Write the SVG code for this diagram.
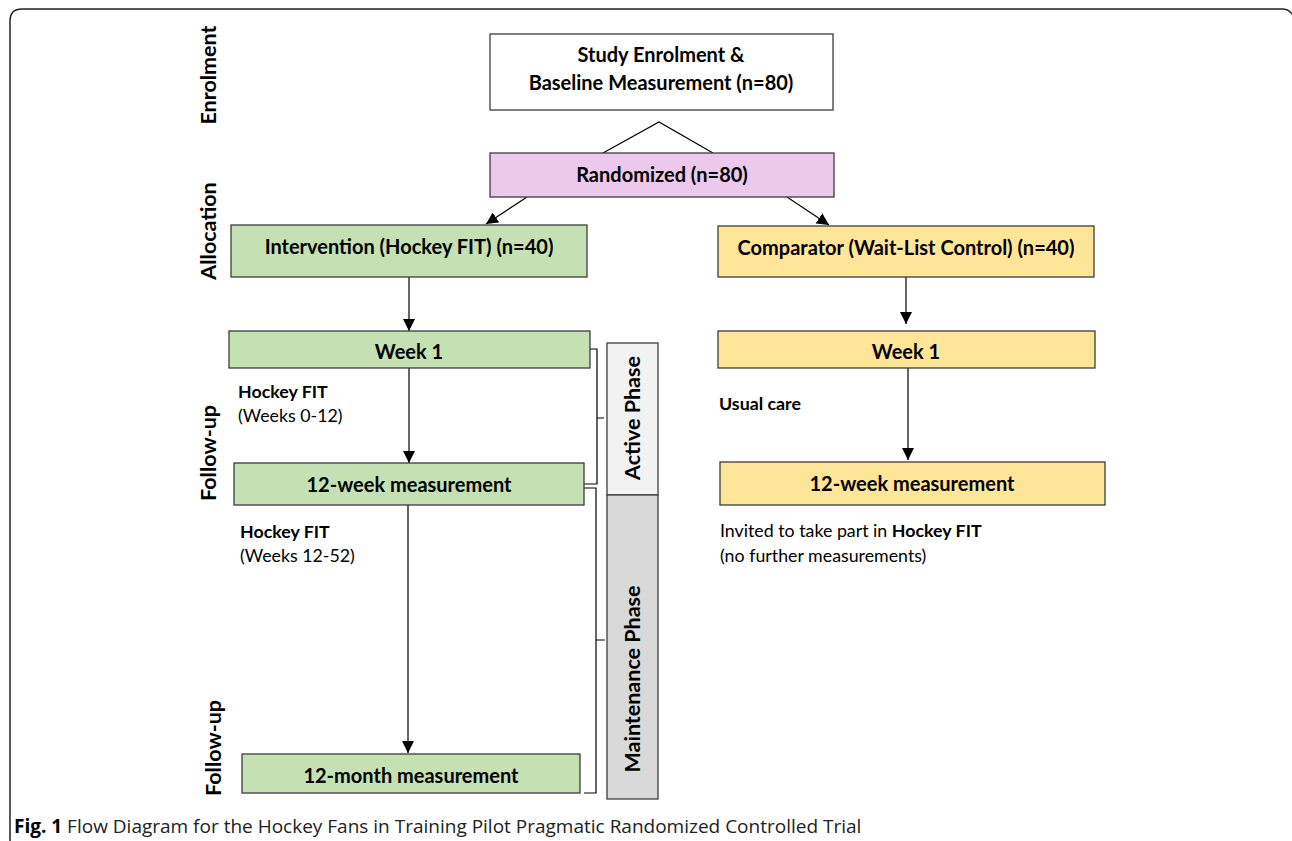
<svg xmlns="http://www.w3.org/2000/svg" width="1292" height="841" viewBox="0 0 1292 841">
<defs>
<marker id="ah" markerUnits="userSpaceOnUse" markerWidth="12" markerHeight="12" viewBox="0 0 12 12" refX="12" refY="6" orient="auto">
<path d="M0,0 L12,6 L0,12 Z" fill="#000"/>
</marker>
<style>
.box{stroke:#3c3c3c;stroke-width:1.3}
.t{font-family:Lato,"Open Sans",sans-serif;font-weight:bold;font-size:20px;fill:#000;text-anchor:middle}
.side{font-family:Lato,"Open Sans",sans-serif;font-weight:bold;font-size:21.5px;fill:#000;text-anchor:middle}
.note{font-family:Lato,"Open Sans",sans-serif;font-size:17.8px;fill:#000}
.nb{font-weight:bold}
.c{stroke:#000;stroke-width:1.2;fill:none}
.cap{font-family:"Open Sans","Noto Sans",sans-serif;font-size:19px;fill:#222}
</style>
</defs>
<rect width="1292" height="841" fill="#fff"/>
<path d="M10,841 V21 Q10,9 22,9 H1282 Q1290,9 1294,17" fill="none" stroke="#222" stroke-width="1.5"/>

<g id="labels">
<text class="side" transform="translate(216,75) rotate(-90)">Enrolment</text>
<text class="side" transform="translate(216,231) rotate(-90)">Allocation</text>
<text class="side" transform="translate(216,453) rotate(-90)">Follow-up</text>
<text class="side" transform="translate(221,748) rotate(-90)">Follow-up</text>
</g>

<g id="connectors">
<path class="c" d="M603,153 L659,122 L713,153"/>
<line class="c" x1="527" y1="197" x2="486" y2="224" marker-end="url(#ah)"/>
<line class="c" x1="787" y1="197" x2="829" y2="225" marker-end="url(#ah)"/>
<line class="c" x1="409" y1="277" x2="409" y2="331" marker-end="url(#ah)"/>
<line class="c" x1="906" y1="277" x2="906" y2="324" marker-end="url(#ah)"/>
<line class="c" x1="409" y1="368" x2="409" y2="463" marker-end="url(#ah)"/>
<line class="c" x1="908" y1="368" x2="908" y2="460" marker-end="url(#ah)"/>
<line class="c" x1="408" y1="505" x2="408" y2="753" marker-end="url(#ah)"/>
<path class="c" d="M590,349 H597 V484 H584 M597,418 H604"/>
<path class="c" d="M584,488 H596 V793 H584 M596,640 H605"/>
</g>

<g id="enrol">
<rect class="box" x="490" y="34" width="343" height="76" fill="#fff"/>
<text class="t" x="661" y="62">Study Enrolment &amp;</text>
<text class="t" x="661" y="90">Baseline Measurement (n=80)</text>
</g>
<g id="randomized">
<rect class="box" x="490" y="153" width="344" height="44" fill="#ecc9ec"/>
<text class="t" x="662" y="182">Randomized (n=80)</text>
</g>
<g id="intervention">
<rect class="box" x="231" y="225" width="356" height="52" fill="#c5e0b3"/>
<text class="t" x="409" y="254">Intervention (Hockey FIT) (n=40)</text>
</g>
<g id="comparator">
<rect class="box" x="718" y="226" width="376" height="51" fill="#ffe598"/>
<text class="t" x="906" y="255">Comparator (Wait-List Control) (n=40)</text>
</g>
<g id="week1-int">
<rect class="box" x="229" y="331" width="361" height="37" fill="#c5e0b3"/>
<text class="t" x="409" y="359">Week 1</text>
</g>
<g id="week1-comp">
<rect class="box" x="718" y="331" width="377" height="37" fill="#ffe598"/>
<text class="t" x="906" y="359">Week 1</text>
</g>
<g id="wk12-int">
<rect class="box" x="234" y="463" width="350" height="42" fill="#c5e0b3"/>
<text class="t" x="409" y="492">12-week measurement</text>
</g>
<g id="wk12-comp">
<rect class="box" x="720" y="462" width="385" height="43" fill="#ffe598"/>
<text class="t" x="912" y="491">12-week measurement</text>
</g>
<g id="mo12-int">
<rect class="box" x="242" y="754" width="338" height="39" fill="#c5e0b3"/>
<text class="t" x="411" y="783">12-month measurement</text>
</g>
<g id="active-phase">
<rect class="box" x="607" y="343" width="51" height="152" fill="#f2f2f2"/>
<text class="side" transform="translate(640,418) rotate(-90)">Active Phase</text>
</g>
<g id="maintenance-phase">
<rect class="box" x="607" y="495" width="51" height="304" fill="#d9d9d9"/>
<text class="side" transform="translate(640,679) rotate(-90)">Maintenance Phase</text>
</g>

<g id="notes">
<text class="note nb" x="238" y="398">Hockey FIT</text>
<text class="note" x="238" y="422">(Weeks 0-12)</text>
<text class="note nb" x="240" y="538">Hockey FIT</text>
<text class="note" x="240" y="562">(Weeks 12-52)</text>
<text class="note nb" x="719" y="410">Usual care</text>
<text class="note" x="720" y="537">Invited to take part in <tspan class="nb">Hockey FIT</tspan></text>
<text class="note" x="720" y="562">(no further measurements)</text>
</g>

<text class="cap" x="14" y="833"><tspan font-weight="bold" fill="#000">Fig. 1</tspan> Flow Diagram for the Hockey Fans in Training Pilot Pragmatic Randomized Controlled Trial</text>
</svg>
